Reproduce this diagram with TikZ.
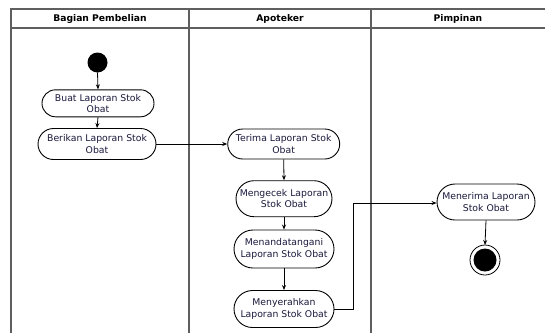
\documentclass[tikz,border=0pt]{standalone}
\usepackage{fontspec}
\setmainfont{DejaVu Sans}
\usetikzlibrary{arrows.meta,shapes.misc}
\definecolor{lanegray}{RGB}{95,95,95}
\definecolor{acttext}{RGB}{25,25,60}
\tikzset{
  lane/.style={draw=lanegray, line width=1.3pt},
  head/.style={font=\fontsize{9.2}{11}\selectfont\bfseries, text=black},
  act/.style={draw=black, line width=0.9pt, rounded rectangle, align=center,
    inner sep=1pt, text=acttext, font=\fontsize{9.3}{11.4}\selectfont},
  flow/.style={draw=black, line width=0.8pt, -{Stealth[length=5pt,width=4pt]}},
}
\begin{document}
\begin{tikzpicture}[x=1pt,y=-1pt]
\useasboundingbox (0,0) rectangle (545,333);
\fill[white] (0,0) rectangle (545,333);

% swimlane frame
\draw[lane] (545,9) -- (11,9) -- (11,333);
\draw[lane] (11,28) -- (545,28);
\draw[lane] (189,9) -- (189,333);
\draw[lane] (371,9) -- (371,333);

% lane headings
\node[head] (h1) at (100,18.5) {Bagian Pembelian};
\node[head] (h2) at (280,18.5) {Apoteker};
\node[head] (h3) at (458,18.5) {Pimpinan};

% initial node
\fill[black] (97.5,62.5) circle (10);
\coordinate (start) at (97.5,72.5);

% activities
\node[act, minimum width=114pt, minimum height=27pt] (buat) at (98,103.3) {Buat Laporan Stok\\Obat};
\node[act, minimum width=120pt, minimum height=31pt] (berikan) at (97,144) {Berikan Laporan Stok\\Obat};
\node[act, minimum width=114pt, minimum height=30pt] (terima) at (283.7,144) {Terima Laporan Stok\\Obat};
\node[act, minimum width=98pt, minimum height=36pt] (cek) at (284,198.7) {Mengecek Laporan\\Stok Obat};
\node[act, minimum width=102pt, minimum height=38pt] (ttd) at (284,249) {Menandatangani\\Laporan Stok Obat};
\node[act, minimum width=102pt, minimum height=37pt] (serah) at (284,309) {Menyerahkan\\Laporan Stok Obat};
\node[act, minimum width=100pt, minimum height=36pt] (terimaP) at (486,202) {Menerima Laporan\\Stok Obat};

% final node
\draw[black, line width=0.8pt, fill=white] (485,260) circle (15);
\fill[black] (485,260) circle (11.5);
\coordinate (final) at (485,245);

% control flow
\draw[flow] (start) -- (buat.north);
\draw[flow] (buat.south) -- (berikan.north);
\draw[flow] (berikan.east) -- (terima.west);
\draw[flow] (terima.south) -- (cek.north);
\draw[flow] (cek.south) -- (ttd.north);
\draw[flow] (ttd.south) -- (serah.north);
\draw[flow] (serah.east) -| (353,203) -- (terimaP.west |- 0,203);
\draw[flow] (terimaP.south) -- (final);
\end{tikzpicture}
\end{document}
